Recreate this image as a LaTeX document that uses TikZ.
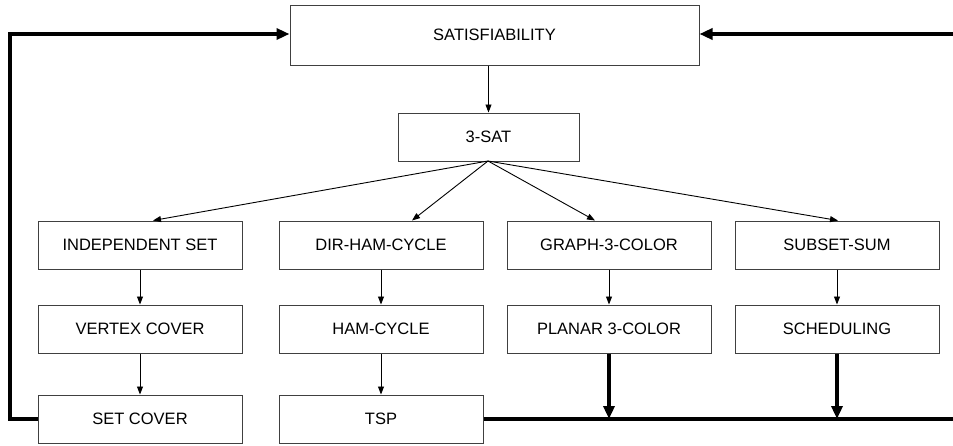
\documentclass[tikz,border=0pt]{standalone}
\usepackage{fontspec}
\setmainfont{Liberation Sans}
\usetikzlibrary{arrows.meta}
\begin{document}
\begin{tikzpicture}[x=1pt,y=-1pt,
  box/.style={draw=black!75,line width=1pt,minimum width=204pt,minimum height=48pt,inner sep=0pt,
    font=\fontsize{16.5}{18}\selectfont},
  thin/.style={line width=0.9pt,-{Triangle[length=8pt,width=6pt]}},
  thick/.style={line width=3.5pt},
  thickarr/.style={line width=3.5pt,-{Triangle[length=13pt,width=11pt]}}]
\useasboundingbox (0,0) rectangle (953,445);
\node[box,minimum width=409pt,minimum height=60pt] (sat) at (494.5,35) {SATISFIABILITY};
\node[box,minimum width=181pt] (sat3) at (488.5,137) {3-SAT};
\node[box] (ind) at (140,245) {INDEPENDENT SET};
\node[box] (dir) at (381,245) {DIR-HAM-CYCLE};
\node[box] (g3c) at (609,245) {GRAPH-3-COLOR};
\node[box] (ssum) at (837,245) {SUBSET-SUM};
\node[box] (vc) at (140,329) {VERTEX COVER};
\node[box] (ham) at (381,329) {HAM-CYCLE};
\node[box] (p3c) at (609,329) {PLANAR 3-COLOR};
\node[box] (sched) at (837,329) {SCHEDULING};
\node[box] (sc) at (140,419) {SET COVER};
\node[box] (tsp) at (381,419) {TSP};
\coordinate (apex) at (488,161);
\draw[thin] (sat3.north |- sat.south) -- (sat3.north);
\draw[thin] (apex) -- ([xshift=13pt]ind.north);
\draw[thin] (apex) -- ([xshift=31pt]dir.north);
\draw[thin] (apex) -- ([xshift=-14pt]g3c.north);
\draw[thin] (apex) -- ([xshift=1pt]ssum.north);
\draw[thin] (ind) -- (vc);
\draw[thin] (vc) -- (sc);
\draw[thin] (dir) -- (ham);
\draw[thin] (ham) -- (tsp);
\draw[thin] (ssum) -- (sched);
\draw[thin] (g3c) -- (p3c);
\coordinate (lb) at (10,419);
\coordinate (lt) at (10,34);
\coordinate (rt) at (953,34);
\coordinate (rb) at (953,419);
\draw[thickarr,line join=miter] (sc.west) -- (lb) -- (lt) -- (sat.west |- lt);
\draw[thickarr] (rt) -- (sat.east |- rt);
\draw[thick] (tsp.east) -- (rb);
\draw[thickarr] (p3c.south) -- (p3c.south |- rb);
\draw[thickarr] (sched.south) -- (sched.south |- rb);
\end{tikzpicture}
\end{document}
